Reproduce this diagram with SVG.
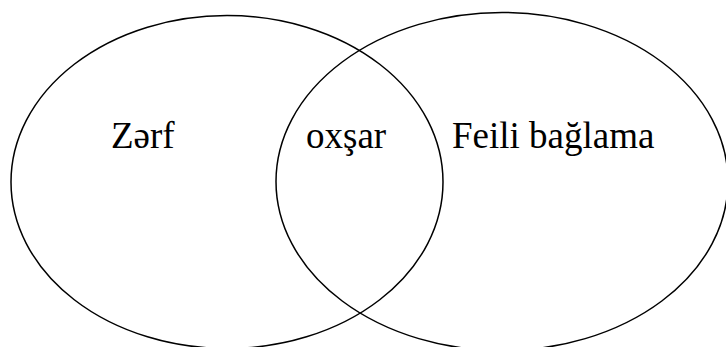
<svg xmlns="http://www.w3.org/2000/svg" width="726" height="347" viewBox="0 0 726 347">
<style>
.set{fill:none;stroke:#000;stroke-width:1.5}
.lbl{font-family:"Liberation Serif","Times New Roman",serif;font-size:37px;fill:#000}
</style>
<rect width="726" height="347" fill="#fff"/>
<g id="zerf">
<ellipse class="set" cx="227" cy="182" rx="216" ry="166.5"/>
<text class="lbl" x="111" y="148">Zərf</text>
</g>
<g id="feili-baglama">
<ellipse class="set" cx="502" cy="181.5" rx="226" ry="169"/>
<text class="lbl" x="452" y="148">Feili bağlama</text>
</g>
<g id="oxsar">
<text class="lbl" x="306" y="148">oxşar</text>
</g>
<g id="connectors"></g>
</svg>
